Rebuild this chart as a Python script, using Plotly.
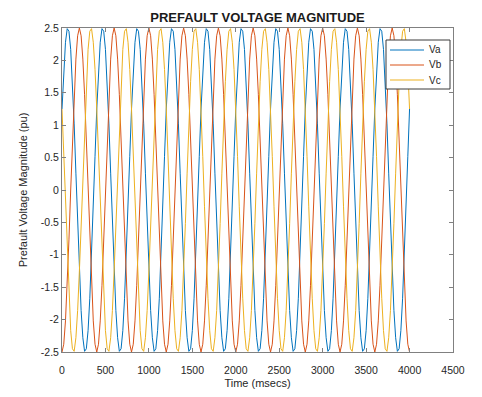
import plotly.graph_objects as go

# Time axis (msecs), sampled every 20 ms from 0 to 4000
time_ms = list(range(0, 4001, 20))

# Phase voltages (pu)
va = [
    1.25, 1.86, 2.28, 2.49, 2.45, 2.17, 1.67, 1.02, 0.26, -0.52, -1.25, -1.86, -2.28, -2.49, -2.45, -2.17, -1.67, -1.02, -0.26, 0.52,
    1.25, 1.86, 2.28, 2.49, 2.45, 2.17, 1.67, 1.02, 0.26, -0.52, -1.25, -1.86, -2.28, -2.49, -2.45, -2.17, -1.67, -1.02, -0.26, 0.52,
    1.25, 1.86, 2.28, 2.49, 2.45, 2.17, 1.67, 1.02, 0.26, -0.52, -1.25, -1.86, -2.28, -2.49, -2.45, -2.17, -1.67, -1.02, -0.26, 0.52,
    1.25, 1.86, 2.28, 2.49, 2.45, 2.17, 1.67, 1.02, 0.26, -0.52, -1.25, -1.86, -2.28, -2.49, -2.45, -2.17, -1.67, -1.02, -0.26, 0.52,
    1.25, 1.86, 2.28, 2.49, 2.45, 2.17, 1.67, 1.02, 0.26, -0.52, -1.25, -1.86, -2.28, -2.49, -2.45, -2.17, -1.67, -1.02, -0.26, 0.52,
    1.25, 1.86, 2.28, 2.49, 2.45, 2.17, 1.67, 1.02, 0.26, -0.52, -1.25, -1.86, -2.28, -2.49, -2.45, -2.17, -1.67, -1.02, -0.26, 0.52,
    1.25, 1.86, 2.28, 2.49, 2.45, 2.17, 1.67, 1.02, 0.26, -0.52, -1.25, -1.86, -2.28, -2.49, -2.45, -2.17, -1.67, -1.02, -0.26, 0.52,
    1.25, 1.86, 2.28, 2.49, 2.45, 2.17, 1.67, 1.02, 0.26, -0.52, -1.25, -1.86, -2.28, -2.49, -2.45, -2.17, -1.67, -1.02, -0.26, 0.52,
    1.25, 1.86, 2.28, 2.49, 2.45, 2.17, 1.67, 1.02, 0.26, -0.52, -1.25, -1.86, -2.28, -2.49, -2.45, -2.17, -1.67, -1.02, -0.26, 0.52,
    1.25, 1.86, 2.28, 2.49, 2.45, 2.17, 1.67, 1.02, 0.26, -0.52, -1.25, -1.86, -2.28, -2.49, -2.45, -2.17, -1.67, -1.02, -0.26, 0.52,
    1.25,
]

vb = [
    -2.5, -2.38, -2.02, -1.47, -0.77, 0.0, 0.77, 1.47, 2.02, 2.38, 2.5, 2.38, 2.02, 1.47, 0.77, 0.0, -0.77, -1.47, -2.02, -2.38,
    -2.5, -2.38, -2.02, -1.47, -0.77, 0.0, 0.77, 1.47, 2.02, 2.38, 2.5, 2.38, 2.02, 1.47, 0.77, 0.0, -0.77, -1.47, -2.02, -2.38,
    -2.5, -2.38, -2.02, -1.47, -0.77, 0.0, 0.77, 1.47, 2.02, 2.38, 2.5, 2.38, 2.02, 1.47, 0.77, 0.0, -0.77, -1.47, -2.02, -2.38,
    -2.5, -2.38, -2.02, -1.47, -0.77, 0.0, 0.77, 1.47, 2.02, 2.38, 2.5, 2.38, 2.02, 1.47, 0.77, 0.0, -0.77, -1.47, -2.02, -2.38,
    -2.5, -2.38, -2.02, -1.47, -0.77, 0.0, 0.77, 1.47, 2.02, 2.38, 2.5, 2.38, 2.02, 1.47, 0.77, 0.0, -0.77, -1.47, -2.02, -2.38,
    -2.5, -2.38, -2.02, -1.47, -0.77, 0.0, 0.77, 1.47, 2.02, 2.38, 2.5, 2.38, 2.02, 1.47, 0.77, 0.0, -0.77, -1.47, -2.02, -2.38,
    -2.5, -2.38, -2.02, -1.47, -0.77, 0.0, 0.77, 1.47, 2.02, 2.38, 2.5, 2.38, 2.02, 1.47, 0.77, 0.0, -0.77, -1.47, -2.02, -2.38,
    -2.5, -2.38, -2.02, -1.47, -0.77, 0.0, 0.77, 1.47, 2.02, 2.38, 2.5, 2.38, 2.02, 1.47, 0.77, 0.0, -0.77, -1.47, -2.02, -2.38,
    -2.5, -2.38, -2.02, -1.47, -0.77, 0.0, 0.77, 1.47, 2.02, 2.38, 2.5, 2.38, 2.02, 1.47, 0.77, 0.0, -0.77, -1.47, -2.02, -2.38,
    -2.5, -2.38, -2.02, -1.47, -0.77, 0.0, 0.77, 1.47, 2.02, 2.38, 2.5, 2.38, 2.02, 1.47, 0.77, 0.0, -0.77, -1.47, -2.02, -2.38,
    -2.5,
]

vc = [
    1.25, 0.52, -0.26, -1.02, -1.67, -2.17, -2.45, -2.49, -2.28, -1.86, -1.25, -0.52, 0.26, 1.02, 1.67, 2.17, 2.45, 2.49, 2.28, 1.86,
    1.25, 0.52, -0.26, -1.02, -1.67, -2.17, -2.45, -2.49, -2.28, -1.86, -1.25, -0.52, 0.26, 1.02, 1.67, 2.17, 2.45, 2.49, 2.28, 1.86,
    1.25, 0.52, -0.26, -1.02, -1.67, -2.17, -2.45, -2.49, -2.28, -1.86, -1.25, -0.52, 0.26, 1.02, 1.67, 2.17, 2.45, 2.49, 2.28, 1.86,
    1.25, 0.52, -0.26, -1.02, -1.67, -2.17, -2.45, -2.49, -2.28, -1.86, -1.25, -0.52, 0.26, 1.02, 1.67, 2.17, 2.45, 2.49, 2.28, 1.86,
    1.25, 0.52, -0.26, -1.02, -1.67, -2.17, -2.45, -2.49, -2.28, -1.86, -1.25, -0.52, 0.26, 1.02, 1.67, 2.17, 2.45, 2.49, 2.28, 1.86,
    1.25, 0.52, -0.26, -1.02, -1.67, -2.17, -2.45, -2.49, -2.28, -1.86, -1.25, -0.52, 0.26, 1.02, 1.67, 2.17, 2.45, 2.49, 2.28, 1.86,
    1.25, 0.52, -0.26, -1.02, -1.67, -2.17, -2.45, -2.49, -2.28, -1.86, -1.25, -0.52, 0.26, 1.02, 1.67, 2.17, 2.45, 2.49, 2.28, 1.86,
    1.25, 0.52, -0.26, -1.02, -1.67, -2.17, -2.45, -2.49, -2.28, -1.86, -1.25, -0.52, 0.26, 1.02, 1.67, 2.17, 2.45, 2.49, 2.28, 1.86,
    1.25, 0.52, -0.26, -1.02, -1.67, -2.17, -2.45, -2.49, -2.28, -1.86, -1.25, -0.52, 0.26, 1.02, 1.67, 2.17, 2.45, 2.49, 2.28, 1.86,
    1.25, 0.52, -0.26, -1.02, -1.67, -2.17, -2.45, -2.49, -2.28, -1.86, -1.25, -0.52, 0.26, 1.02, 1.67, 2.17, 2.45, 2.49, 2.28, 1.86,
    1.25,
]

series_names = ["Va", "Vb", "Vc"]
series_colors = ["#0072BD", "#D95319", "#EDB120"]

x_ticks = [0, 500, 1000, 1500, 2000, 2500, 3000, 3500, 4000, 4500]
x_tick_labels = ["0", "500", "1000", "1500", "2000", "2500", "3000", "3500", "4000", "4500"]
y_ticks = [-2.5, -2, -1.5, -1, -0.5, 0, 0.5, 1, 1.5, 2, 2.5]
y_tick_labels = ["-2.5", "-2", "-1.5", "-1", "-0.5", "0", "0.5", "1", "1.5", "2", "2.5"]

FONT = "Liberation Sans, Arial, Helvetica, sans-serif"
AX = "#808080"
TXT = "#262626"

# Layout geometry (pixels)
W, H = 482, 397
PL, PR, PT, PB = 62, 453, 28, 352


def px(xp):
    return (xp - PL) / (PR - PL)


def py(yp):
    return 1 - (yp - PT) / (PB - PT)


fig = go.Figure()
for name, ys, col in zip(series_names, [va, vb, vc], series_colors):
    fig.add_trace(go.Scatter(x=time_ms, y=ys, mode="lines", name=name,
                             line=dict(color=col, width=1), showlegend=False))

axis_common = dict(
    showline=True, linecolor=AX, linewidth=1, mirror="ticks",
    ticks="inside", ticklen=4, tickcolor=AX, tickwidth=1,
    showgrid=False, zeroline=False,
    tickfont=dict(family=FONT, size=10.5, color=TXT),
)

fig.update_xaxes(range=[0, 4500], tickvals=x_ticks, ticktext=x_tick_labels,
                 ticklabelstandoff=8,
                 title=dict(text="Time (msecs)", font=dict(family=FONT, size=11, color=TXT), standoff=4),
                 **axis_common)
fig.update_yaxes(range=[-2.5, 2.5], tickvals=y_ticks, ticktext=y_tick_labels,
                 title=dict(text="Prefault Voltage Magnitude (pu)", font=dict(family=FONT, size=11, color=TXT), standoff=10),
                 **axis_common)

# Legend box drawn to match the MATLAB-style legend
LB_X0, LB_X1, LB_Y0, LB_Y1 = 386, 450, 40, 89
shapes = [dict(type="rect", xref="paper", yref="paper",
               x0=px(LB_X0), x1=px(LB_X1), y0=py(LB_Y1), y1=py(LB_Y0),
               fillcolor="white", line=dict(color="#3a3a3a", width=1), layer="above")]
annotations = []
row_y = [50, 65, 80]
for name, col, ry in zip(series_names, series_colors, row_y):
    shapes.append(dict(type="line", xref="paper", yref="paper",
                       x0=px(390), x1=px(424), y0=py(ry), y1=py(ry),
                       line=dict(color=col, width=1), layer="above"))
    annotations.append(dict(text=name, xref="paper", yref="paper", x=px(427), y=py(ry),
                            xanchor="left", yanchor="middle", showarrow=False,
                            font=dict(family=FONT, size=10, color=TXT)))

fig.update_layout(
    width=W, height=H,
    margin=dict(l=PL, r=W - PR, t=PT, b=H - PB, autoexpand=False),
    paper_bgcolor="white", plot_bgcolor="white",
    title=dict(text="<b>PREFAULT VOLTAGE MAGNITUDE</b>", x=(PL + PR) / 2 / W, xanchor="center",
               y=1 - 17.5 / H, yanchor="middle", yref="container",
               font=dict(family=FONT, size=13, color="#1a1a1a")),
    shapes=shapes,
    annotations=annotations,
    showlegend=False,
)

fig.write_html("out.html")
